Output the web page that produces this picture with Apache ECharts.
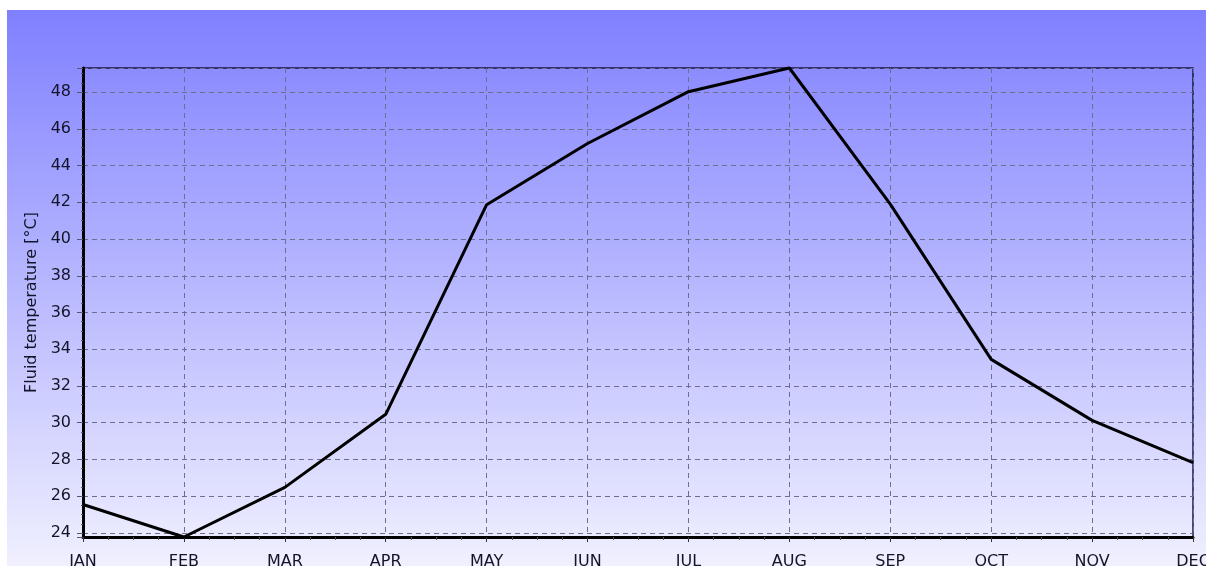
<!DOCTYPE html>
<html>
<head>
<meta charset="utf-8">
<script src="https://cdn.jsdelivr.net/npm/echarts@6/dist/echarts.min.js"></script>
<style>
  html, body { margin: 0; padding: 0; background: #ffffff; width: 1206px; height: 566px; overflow: hidden; }
  #chart { position: absolute; left: 7px; top: 10px; width: 1199px; height: 556px; }
</style>
</head>
<body>
<div id="chart"></div>
<script>
// Monthly fluid temperature
const months = ['JAN', 'FEB', 'MAR', 'APR', 'MAY', 'JUN', 'JUL', 'AUG', 'SEP', 'OCT', 'NOV', 'DEC'];
const fluidTemp = [25.55, 23.78, 26.48, 30.46, 41.87, 45.2, 48.02, 49.31, 41.9, 33.45, 30.13, 27.83];
const yAxisTitle = 'Fluid temperature [°C]';

const seriesData = fluidTemp.map((v, i) => [i, v]);
const labelFont = { fontFamily: 'DejaVu Sans, Liberation Sans, sans-serif', fontSize: 16, color: '#141428' };
const gridDash = { color: '#6e6e90', width: 1, type: [5, 4] };

const chart = echarts.init(document.getElementById('chart'), null, { renderer: 'canvas' });
chart.setOption({
  animation: false,
  backgroundColor: {
    type: 'linear', x: 0, y: 0, x2: 0, y2: 1,
    colorStops: [
      { offset: 0, color: '#8080ff' },
      { offset: 1, color: '#f0f0ff' }
    ]
  },
  grid: {
    left: 76, top: 58, width: 1110, height: 469,
    outerBoundsMode: 'none',
    containLabel: false,
    show: true, borderColor: '#141450', borderWidth: 1.5, backgroundColor: 'transparent'
  },
  xAxis: {
    type: 'value',
    min: 0, max: months.length - 1, interval: 1,
    axisLine: { show: true, lineStyle: { color: '#000000', width: 3 } },
    axisTick: { show: true, inside: false, length: 5, lineStyle: { color: '#333333', width: 1 } },
    minorTick: { show: true, splitNumber: 4, length: 3, lineStyle: { color: '#555555', width: 1 } },
    splitLine: { show: true, lineStyle: gridDash },
    axisLabel: Object.assign({ margin: 17, formatter: v => months[Math.round(v)] || '' }, labelFont)
  },
  yAxis: {
    type: 'value',
    min: 'dataMin', max: 'dataMax',
    splitNumber: 13,
    name: yAxisTitle,
    nameLocation: 'middle',
    nameGap: 41,
    nameTextStyle: labelFont,
    axisLine: { show: true, lineStyle: { color: '#000000', width: 3 } },
    axisTick: { show: true, length: 6, lineStyle: { color: '#555577', width: 1 } },
    minorTick: { show: true, splitNumber: 4, length: 2, lineStyle: { color: '#555577', width: 1 } },
    splitLine: { show: true, lineStyle: gridDash },
    axisLabel: Object.assign({
      margin: 12,
      formatter: v => {
        const r = Math.round(v);
        return (Math.abs(v - r) < 1e-6 && r % 2 === 0) ? String(r) : '';
      }
    }, labelFont)
  },
  series: [{
    type: 'line',
    data: seriesData,
    showSymbol: false,
    symbol: 'none',
    lineStyle: { color: '#000000', width: 3 },
    clip: false
  }]
});
</script>
</body>
</html>
